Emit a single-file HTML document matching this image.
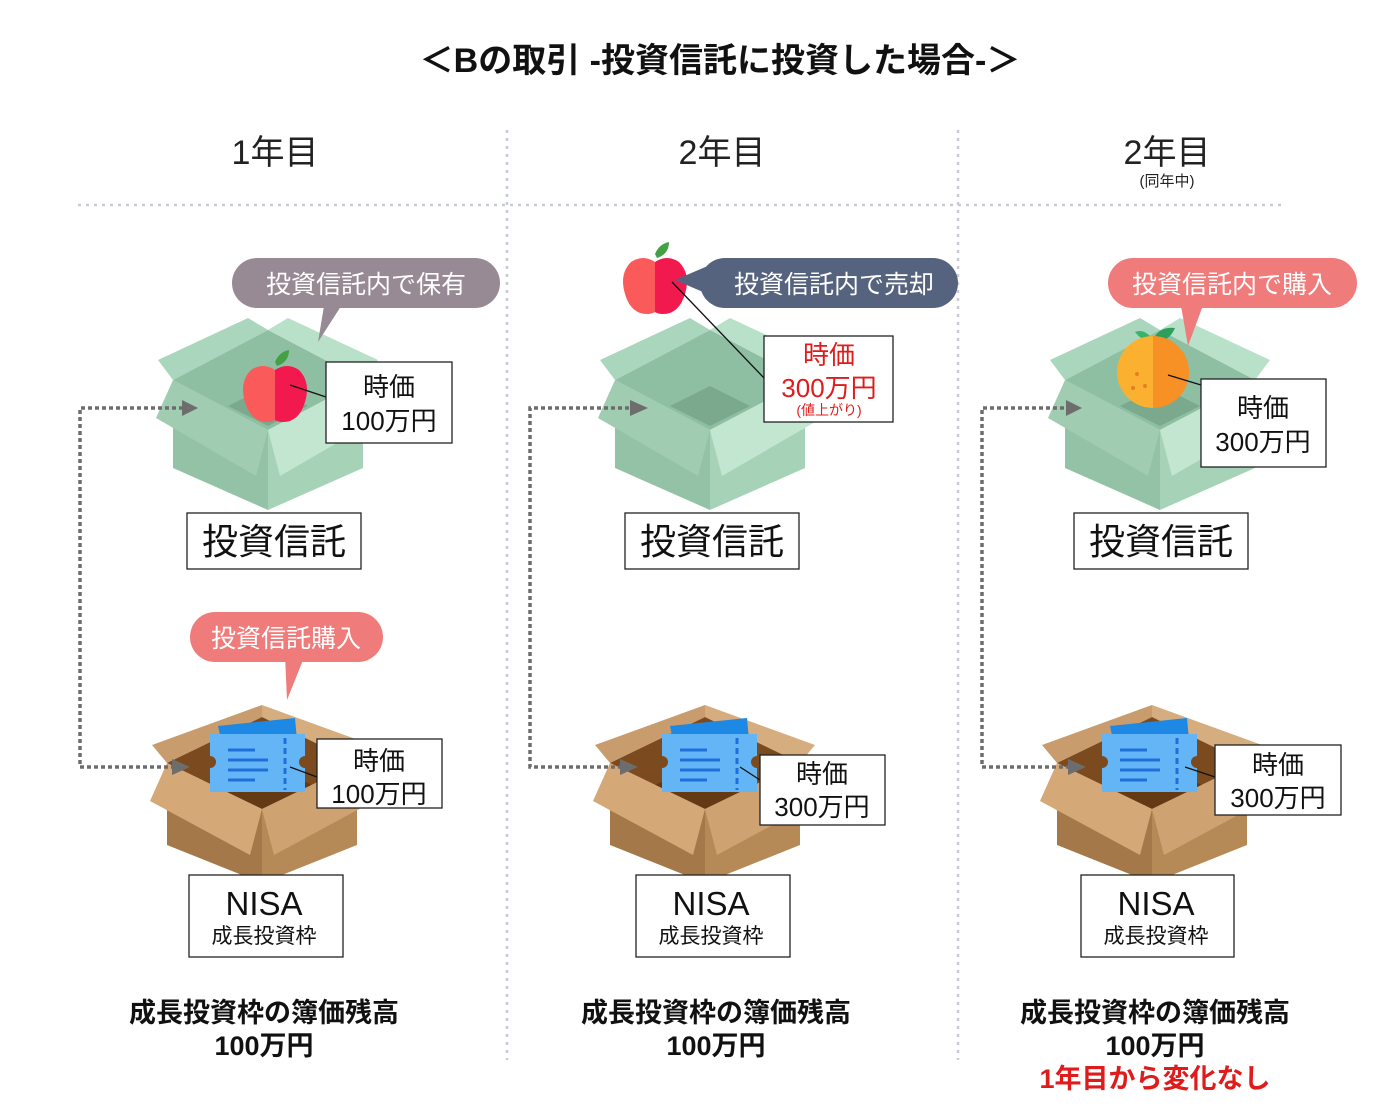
<!DOCTYPE html>
<html><head><meta charset="utf-8"><style>
body{margin:0;background:#fff;}
svg text{font-family:"Liberation Sans","Noto Sans CJK JP",sans-serif;}
</style></head><body>
<svg width="1381" height="1106" viewBox="0 0 1381 1106" xmlns="http://www.w3.org/2000/svg">
<defs>
<g id="gbox">
 <polygon points="-110,42 -20,0 0,12 -95,62" fill="#a9d6bd"/>
 <polygon points="0,12 20,0 110,42 95,62" fill="#b9e0c9"/>
 <polygon points="-95,62 0,12 95,62 0,112" fill="#8fbfa3"/>
 <polygon points="-40,88 0,68 40,88 0,108" fill="#7aa98e"/>
 <polygon points="-95,62 0,112 0,192 -95,150" fill="#93c2a6"/>
 <polygon points="0,112 95,62 95,150 0,192" fill="#a6d3b8"/>
 <polygon points="-95,62 0,112 -12,158 -112,100" fill="#a0ccb2"/>
 <polygon points="0,112 95,62 112,100 12,158" fill="#c2e6d0"/>
</g>
<g id="bbox">
 <polygon points="-110,40 0,0 0,12 -95,58" fill="#c89c6c"/>
 <polygon points="0,0 110,40 95,58 0,12" fill="#d6ad7e"/>
 <polygon points="-95,58 0,12 95,58 0,104" fill="#7b4a1f"/>
 <polygon points="-50,80 0,58 50,80 0,104" fill="#643a14"/>
 <polygon points="-95,58 0,104 0,178 -95,140" fill="#a47848"/>
 <polygon points="0,104 95,58 95,140 0,178" fill="#b68a57"/>
 <polygon points="-95,58 0,104 -12,150 -112,96" fill="#d4a877"/>
 <polygon points="0,104 95,58 112,96 12,150" fill="#cfa272"/>
</g>
<g id="apple">
 <path d="M0,-30 Q4,-40 14,-42 Q14,-30 2,-26Z" fill="#43a047"/>
 <path d="M0,-22 Q-12,-30 -24,-22 Q-36,-10 -30,10 Q-24,30 -8,30 Q-3,30 0,28Z" fill="#fb5a5a"/>
 <path d="M0,-22 Q12,-30 24,-22 Q36,-10 30,10 Q24,30 8,30 Q3,30 0,28Z" fill="#f2194f"/>
</g>
<g id="ticket">
 <polygon points="8,-8 85,-16 90,40 20,46" fill="#1e88e5"/>
 <path d="M0,0 H95 V22 A6,6 0 0 0 95,34 V58 H0 V34 A6,6 0 0 0 0,22Z" fill="#64b5f6"/>
 <g stroke="#1e6fd9" stroke-width="3"><line x1="18" y1="16" x2="45" y2="16"/><line x1="18" y1="26" x2="58" y2="26"/><line x1="18" y1="36" x2="58" y2="36"/><line x1="18" y1="46" x2="45" y2="46"/><line x1="75" y1="4" x2="75" y2="56" stroke-dasharray="6 4"/></g>
</g>
</defs>

<text x="720" y="72" font-size="34" font-weight="bold" text-anchor="middle" fill="#111">＜Bの取引 -投資信託に投資した場合-＞</text>

<g stroke="#c8cad6" stroke-width="2.5" stroke-dasharray="3 5">
 <line x1="78" y1="205" x2="1285" y2="205"/>
 <line x1="507" y1="130" x2="507" y2="1060"/>
 <line x1="958" y1="130" x2="958" y2="1060"/>
</g>
<g font-size="34" text-anchor="middle" fill="#222">
 <text x="275" y="164">1年目</text><text x="722" y="164">2年目</text><text x="1167" y="164">2年目</text>
</g>
<text x="1167" y="186" font-size="15" text-anchor="middle" fill="#222">(同年中)</text>

<use href="#gbox" transform="translate(268,318)"/>
<use href="#gbox" transform="translate(710,318)"/>
<use href="#gbox" transform="translate(1160,318)"/>
<use href="#bbox" transform="translate(262,705)"/>
<use href="#bbox" transform="translate(705,705)"/>
<use href="#bbox" transform="translate(1152,705)"/>

<g fill="none" stroke="#6d6d6d" stroke-width="3.5" stroke-dasharray="4 3">
 <path d="M175,767 H80 V408 H184"/>
 <path d="M622,767 H530 V408 H632"/>
 <path d="M1070,767 H982 V408 H1068"/>
</g>
<g fill="#6d6d6d">
 <polygon points="182,400 198,408 182,416"/><polygon points="172,759 190,767 172,775"/>
 <polygon points="630,400 648,408 630,416"/><polygon points="620,759 638,767 620,775"/>
 <polygon points="1066,400 1082,408 1066,416"/><polygon points="1068,759 1086,767 1068,775"/>
</g>

<use href="#apple" transform="translate(275,392)"/>
<use href="#apple" transform="translate(655,284)"/>
<g transform="translate(1153,372)">
 <path d="M0,-32 Q6,-46 22,-44 Q16,-30 2,-30Z" fill="#2e9e5b"/><path d="M0,-32 Q-8,-44 -18,-40 Q-10,-30 0,-30Z" fill="#36b46a"/>
 <path d="M0,-36 A36,36 0 0 0 0,36Z" fill="#fbb12f"/><path d="M0,-36 A36,36 0 0 1 0,36Z" fill="#f79025"/>
 <circle cx="-16" cy="2" r="2" fill="#e67e22"/><circle cx="-8" cy="14" r="2" fill="#e67e22"/><circle cx="-20" cy="16" r="2" fill="#e67e22"/>
</g>
<use href="#ticket" transform="translate(210,734)"/>
<use href="#ticket" transform="translate(662,734)"/>
<use href="#ticket" transform="translate(1102,734)"/>

<g stroke="#111" stroke-width="1.3">
 <line x1="290" y1="385" x2="326" y2="397"/>
 <line x1="672" y1="282" x2="764" y2="378"/>
 <line x1="1168" y1="375" x2="1201" y2="385"/>
 <line x1="290" y1="767" x2="317" y2="777"/>
 <line x1="740" y1="767" x2="760" y2="780"/>
 <line x1="1185" y1="767" x2="1215" y2="777"/>
</g>

<g>
 <rect x="232" y="258" width="268" height="50" rx="25" fill="#978a94"/><polygon points="325,300 345,300 318,342" fill="#978a94"/>
 <text x="366" y="293" font-size="25" text-anchor="middle" fill="#fff">投資信託内で保有</text>
 <rect x="700" y="258" width="258" height="50" rx="25" fill="#56637e"/><polygon points="710,265 710,295 675,280" fill="#56637e"/>
 <text x="834" y="293" font-size="25" text-anchor="middle" fill="#fff">投資信託内で売却</text>
 <rect x="1108" y="258" width="249" height="50" rx="25" fill="#ef7b7b"/><polygon points="1180,300 1205,300 1188,346" fill="#ef7b7b"/>
 <text x="1232" y="293" font-size="25" text-anchor="middle" fill="#fff">投資信託内で購入</text>
 <rect x="190" y="612" width="193" height="50" rx="25" fill="#ef7b7b"/><polygon points="285,655 305,655 287,700" fill="#ef7b7b"/>
 <text x="286" y="647" font-size="25" text-anchor="middle" fill="#fff">投資信託購入</text>
</g>

<g fill="#fff" stroke="#222" stroke-width="1.3">
 <rect x="326" y="362" width="126" height="81"/>
 <rect x="764" y="336" width="129" height="86"/>
 <rect x="1201" y="379" width="125" height="88"/>
 <rect x="317" y="739" width="125" height="69"/>
 <rect x="760" y="755" width="125" height="70"/>
 <rect x="1215" y="745" width="126" height="70"/>
 <rect x="187" y="513" width="174" height="56"/>
 <rect x="625" y="513" width="174" height="56"/>
 <rect x="1074" y="513" width="174" height="56"/>
 <rect x="189" y="875" width="154" height="82"/>
 <rect x="636" y="875" width="154" height="82"/>
 <rect x="1081" y="875" width="153" height="82"/>
</g>
<g font-size="26" text-anchor="middle" fill="#111">
 <text x="389" y="396">時価</text><text x="389" y="430">100万円</text>
 <text x="1263" y="417">時価</text><text x="1263" y="451">300万円</text>
 <text x="379" y="770">時価</text><text x="379" y="803">100万円</text>
 <text x="822" y="783">時価</text><text x="822" y="816">300万円</text>
 <text x="1278" y="774">時価</text><text x="1278" y="807">300万円</text>
</g>
<g text-anchor="middle" fill="#e01b1b">
 <text x="829" y="364" font-size="26">時価</text><text x="829" y="397" font-size="26">300万円</text>
 <text x="829" y="415" font-size="14">(値上がり)</text>
</g>
<g font-size="36" text-anchor="middle" fill="#111">
 <text x="274" y="554">投資信託</text><text x="712" y="554">投資信託</text><text x="1161" y="554">投資信託</text>
</g>
<g text-anchor="middle" fill="#111">
 <text x="264" y="915" font-size="33">NISA</text><text x="264" y="943" font-size="21">成長投資枠</text>
 <text x="711" y="915" font-size="33">NISA</text><text x="711" y="943" font-size="21">成長投資枠</text>
 <text x="1156" y="915" font-size="33">NISA</text><text x="1156" y="943" font-size="21">成長投資枠</text>
</g>
<g font-size="27" font-weight="bold" text-anchor="middle" fill="#111">
 <text x="264" y="1022">成長投資枠の簿価残高</text><text x="264" y="1055">100万円</text>
 <text x="716" y="1022">成長投資枠の簿価残高</text><text x="716" y="1055">100万円</text>
 <text x="1155" y="1022">成長投資枠の簿価残高</text><text x="1155" y="1055">100万円</text>
 <text x="1155" y="1088" fill="#e01b1b">1年目から変化なし</text>
</g>
</svg>
</body></html>
